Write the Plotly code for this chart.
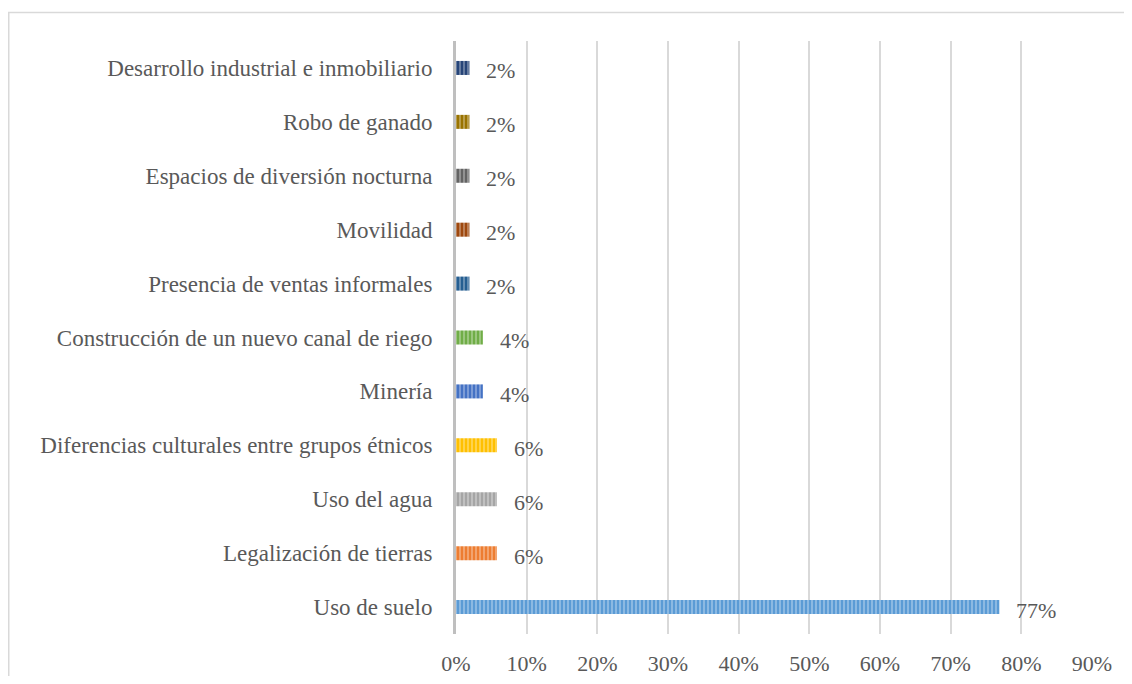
import plotly.graph_objects as go

categories = [
    "Uso de suelo",
    "Legalización de tierras",
    "Uso del agua",
    "Diferencias culturales entre grupos étnicos",
    "Minería",
    "Construcción de un nuevo canal de riego",
    "Presencia de ventas informales",
    "Movilidad",
    "Espacios de diversión nocturna",
    "Robo de ganado",
    "Desarrollo industrial e inmobiliario",
]
values = [0.769, 0.058, 0.058, 0.058, 0.038, 0.038, 0.019, 0.019, 0.019, 0.019, 0.019]
colors = ["#5B9BD5", "#ED7D31", "#A5A5A5", "#FFC000", "#4472C4", "#70AD47",
          "#255E91", "#9E480E", "#636363", "#997300", "#264478"]
x_ticks = [0, 0.1, 0.2, 0.3, 0.4, 0.5, 0.6, 0.7, 0.8, 0.9]


def tint(h, f):
    h = h.lstrip("#")
    r, g, b = (int(h[i:i + 2], 16) for i in (0, 2, 4))
    r, g, b = (round(c + (255 - c) * f) for c in (r, g, b))
    return f"#{r:02X}{g:02X}{b:02X}"


W, H = 1116, 668
L, R, T, B = 448, 32, 33, 42
FONT = "Liberation Serif, Times New Roman, serif"
TXT = "#595959"

fig = go.Figure()
for c, v, col in zip(categories, values, colors):
    fig.add_trace(go.Bar(
        y=[c], x=[v], orientation="h", width=0.26,
        marker=dict(color=tint(col, 0.3), line=dict(width=0),
                    pattern=dict(shape="|", fillmode="overlay", fgcolor=col,
                                 fgopacity=1, size=4, solidity=0.5)),
        hoverinfo="skip", showlegend=False,
    ))
    fig.add_annotation(x=v, y=c, text=f"{round(v*100)}%", showarrow=False,
                       xanchor="left", yanchor="middle", xshift=15, yshift=-3,
                       font=dict(family=FONT, size=22, color=TXT))

pw = W - L - R
ph = H - T - B
def px(x): return (x - L) / pw
def py(y): return (H - B - y) / ph
fig.add_shape(type="path", xref="paper", yref="paper",
              path=f"M {px(0.75)} {py(H)} L {px(0.75)} {py(4.5)} L {px(W)} {py(4.5)}",
              line=dict(color="#D9D9D9", width=1.5))

fig.update_layout(
    width=W, height=H, margin=dict(l=L, r=R, t=T, b=B),
    paper_bgcolor="white", plot_bgcolor="white",
    font=dict(family=FONT, size=22, color=TXT),
    barmode="overlay",
    xaxis=dict(range=[0, 0.9], tickvals=x_ticks, tickformat=".0%",
               showgrid=True, gridcolor="#D9D9D9", gridwidth=1.5,
               zeroline=False, showline=False, ticks="", automargin=False,
               ticklabelstandoff=14, fixedrange=True),
    yaxis=dict(categoryorder="array", categoryarray=categories,
               showline=True, linecolor="#BFBFBF", linewidth=3,
               showgrid=False, ticks="", ticklabelstandoff=16, automargin=False,
               tickfont=dict(size=23),
               range=[-0.5, len(categories) - 0.5], fixedrange=True),
)

fig.write_html("out.html")
